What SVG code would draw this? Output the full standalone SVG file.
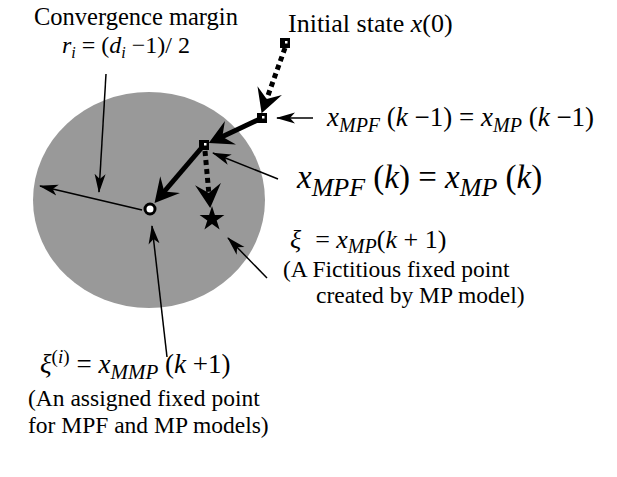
<svg xmlns="http://www.w3.org/2000/svg" width="617" height="477" viewBox="0 0 617 477">
<style>
.t { font-size: 23.5px; }
.i { font-style: italic; }
.thin { stroke: #000; stroke-width: 1.5; fill: none; marker-end: url(#ah); }
.thick { stroke: #000; stroke-width: 5; fill: none; marker-end: url(#bh); }
.dot { stroke: #000; stroke-width: 5; fill: none; stroke-dasharray: 5 4; marker-end: url(#bh); }
.sq { fill: #000; }
.sqd { fill: #fff; }
</style>
<defs>
<marker id="ah" markerUnits="userSpaceOnUse" viewBox="0 0 20 12" markerWidth="20" markerHeight="12" refX="18" refY="6" orient="auto">
<path d="M19,6 L0,0.5 L5,6 L0,11.5 Z" fill="#000"/>
</marker>
<marker id="bh" markerUnits="userSpaceOnUse" viewBox="0 0 26 26" markerWidth="26" markerHeight="26" refX="11" refY="13" orient="auto">
<path d="M24,13 L0,0 L9,13 L0,26 Z" fill="#000"/>
</marker>
</defs>

<g id="region">
<ellipse cx="149" cy="200" rx="116" ry="108" fill="#999999"/>
</g>

<g id="connectors">
<path class="dot" d="M285,48 L266,101"/>
<path class="thick" d="M262,118 L220.5,137.5"/>
<path class="thick" d="M204,145 L163,193"/>
<path class="dot" d="M205,151 L209,195"/>
<path class="thin" d="M106,74 L99,192"/>
<path class="thin" d="M142,210 L40,186"/>
<path class="thin" d="M313,118 L277,118"/>
<path class="thin" d="M278,179 L213,153"/>
<path class="thin" d="M267,278 L228,238"/>
<path class="thin" d="M167,357 L152,226"/>
</g>

<g id="x0">
<rect class="sq" x="280" y="38" width="10" height="10"/>
<rect class="sqd" x="285" y="41" width="2.5" height="2.5"/>
</g>
<g id="xk1">
<rect class="sq" x="257" y="113" width="10" height="10"/>
<rect class="sqd" x="262" y="116" width="2.5" height="2.5"/>
</g>
<g id="xk">
<rect class="sq" x="199" y="140" width="10" height="10"/>
<rect class="sqd" x="204" y="143" width="2.5" height="2.5"/>
</g>
<g id="xi">
<circle cx="150" cy="209" r="5" fill="#fff" stroke="#000" stroke-width="3"/>
</g>
<g id="star">
<polygon points="212,206 214.9,215 224.4,215 216.7,220.5 219.6,229.6 212,224 204.4,229.6 207.3,220.5 199.6,215 209.1,215" fill="#000"/>
</g>

<g id="labels" font-family="'Liberation Serif', Tinos, 'DejaVu Serif', serif" fill="#000">
<text font-size="24.5" x="34" y="25">Convergence margin</text>
<text font-size="24" x="62" y="53"><tspan class="i">r</tspan><tspan class="i" font-size="16" dy="5">i</tspan><tspan dy="-5"> = (</tspan><tspan class="i">d</tspan><tspan class="i" font-size="16" dy="5">i</tspan><tspan dy="-5"> −1)/ 2</tspan></text>
<text font-size="26" x="288" y="32">Initial state <tspan class="i">x</tspan>(0)</text>
<text font-size="27" x="327" y="126"><tspan class="i">x</tspan><tspan class="i" font-size="20" dy="6">MPF</tspan><tspan dy="-6"> (</tspan><tspan class="i">k</tspan> −1) = <tspan class="i">x</tspan><tspan class="i" font-size="20" dy="6">MP</tspan><tspan dy="-6"> (</tspan><tspan class="i">k</tspan> −1)</text>
<text font-size="33" x="297" y="188"><tspan class="i">x</tspan><tspan class="i" font-size="26" dy="8">MPF</tspan><tspan dy="-8"> (</tspan><tspan class="i">k</tspan>) = <tspan class="i">x</tspan><tspan class="i" font-size="26" dy="8">MP</tspan><tspan dy="-8"> (</tspan><tspan class="i">k</tspan>)</text>
<text font-size="26" x="290" y="248"><tspan class="i">ξ</tspan><tspan dx="14">= </tspan><tspan class="i">x</tspan><tspan class="i" font-size="20" dy="5">MP</tspan><tspan dy="-5">(</tspan><tspan class="i">k</tspan> + 1)</text>
<text font-size="23.5" x="283" y="277">(A Fictitious fixed point</text>
<text font-size="23.5" x="316" y="303">created by MP model)</text>
<text font-size="27" x="40" y="373"><tspan class="i">ξ</tspan><tspan font-size="19" dy="-10">(</tspan><tspan class="i" font-size="19">i</tspan><tspan font-size="19">)</tspan><tspan dy="10" dx="7">= </tspan><tspan class="i">x</tspan><tspan class="i" font-size="21" dy="6">MMP</tspan><tspan dy="-6"> (</tspan><tspan class="i">k</tspan> +1)</text>
<text class="t" x="28" y="406">(An assigned fixed point</text>
<text class="t" x="28" y="433">for MPF and MP models)</text>
</g>
</svg>
